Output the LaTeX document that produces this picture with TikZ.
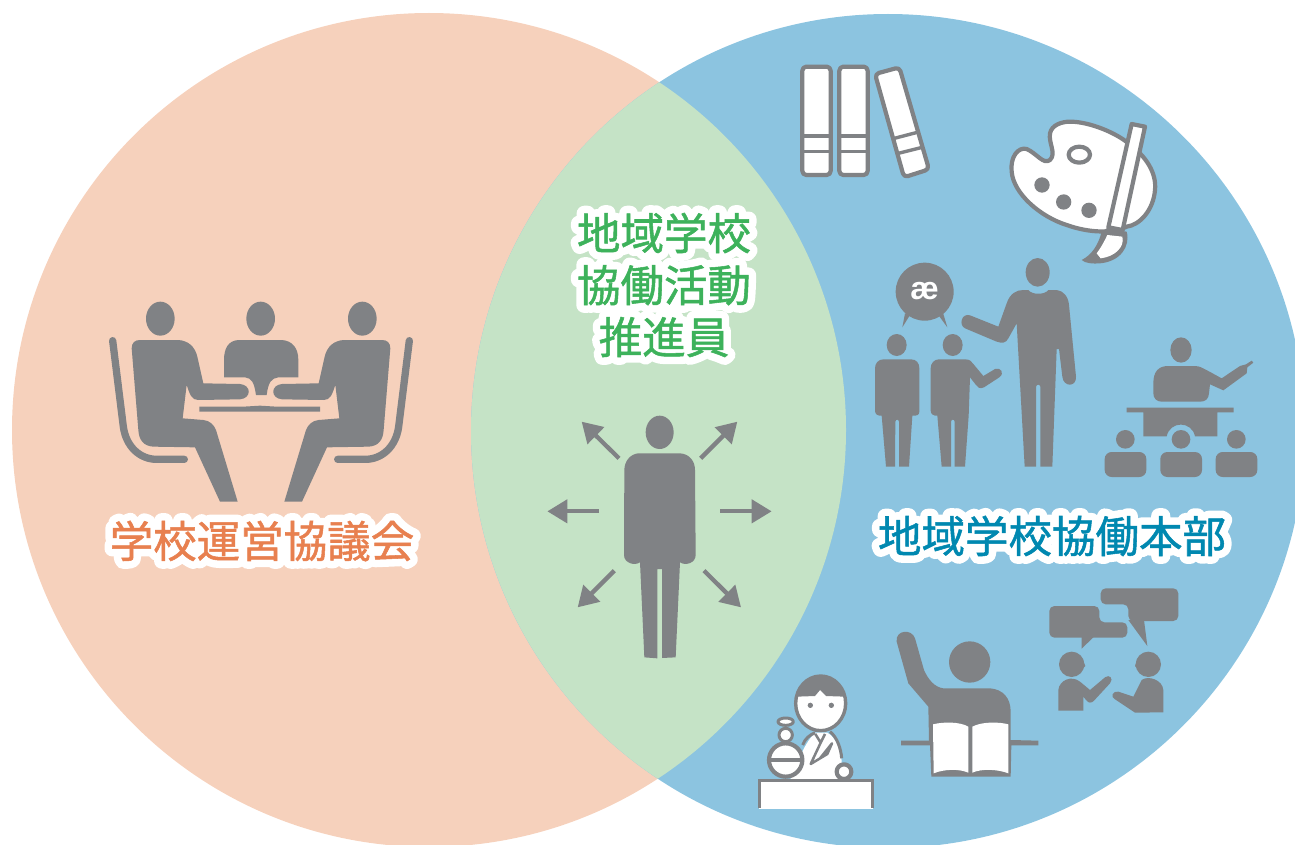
\documentclass[tikz,border=0pt]{standalone}
\usepackage{fontspec}
\usetikzlibrary{arrows.meta}
\newfontfamily\jpfont[FakeBold=1.2]{Noto Sans CJK JP}
\newfontfamily\halofont[FakeBold=36]{Noto Sans CJK JP}
\setmainfont{Liberation Sans}
\definecolor{peach}{HTML}{F6D1BC}
\definecolor{skyblue}{HTML}{8CC4E0}
\definecolor{lensgreen}{HTML}{C5E3C6}
\definecolor{icongrey}{HTML}{808285}
\definecolor{labelorange}{HTML}{E8804F}
\definecolor{labelblue}{HTML}{0088B0}
\definecolor{labelgreen}{HTML}{3DB25B}
\tikzset{
  iconfill/.style={fill=icongrey},
  iconline/.style={draw=icongrey, fill=white, line width=4.2pt, line join=round},
  bandline/.style={draw=icongrey, line width=3.4pt},
  outarrow/.style={draw=icongrey, line width=4.3pt, -{Triangle[length=20pt,width=23pt]}},
  labeltext/.style={font=\jpfont\fontsize{43.5}{52}\selectfont, align=center, inner sep=0pt},
  halotext/.style={font=\halofont\fontsize{43.5}{52}\selectfont, align=center, inner sep=0pt, text=white}
}
\newcommand{\halolabel}[4]{%
  \node[halotext] at (#2) {\special{pdf:code 1 j}#4};
  \node[labeltext, text=#3] (#1) at (#2) {#4};
}
\newcommand{\seatedperson}{%
  \draw[icongrey, line width=7.3pt, line cap=round] (68,182) -- (100,440) .. controls (108,500) and (150,538) .. (200,538) -- (283,538);
  \fill[iconfill] (125,205) .. controls (125,188) and (135,180) .. (150,180) -- (265,180) .. controls (295,182) and (315,200) .. (322,230) -- (340,310) -- (450,312) .. controls (485,315) and (485,355) .. (450,358) -- (325,360) .. controls (305,360) and (300,345) .. (290,315) -- (278,415) -- (340,420) .. controls (360,422) and (372,435) .. (378,450) -- (443,665) -- (390,665) -- (315,502) -- (190,500) .. controls (160,498) and (147,480) .. (145,450) -- cycle;
}

\begin{document}
\begin{tikzpicture}[x=1pt, y=-1pt]
  \useasboundingbox (0,0) rectangle (1295,845);
  \clip (0,0) rectangle (1295,845);
  \fill[peach] (429,430) circle[radius=417];
  \fill[skyblue] (888,431) circle[radius=417];
  \begin{scope}
    \clip (429,430) circle[radius=417];
    \fill[lensgreen] (888,431) circle[radius=417];
  \end{scope}

  \begin{scope}[shift={(90,280)}, scale=1/3]
    \foreach \hx in {211,512,817} {
      \fill[iconfill] (\hx,116) ellipse[x radius=43, y radius=51];
    }
    \seatedperson
    \begin{scope}[shift={(1026,0)}, xscale=-1]
      \seatedperson
    \end{scope}
    \fill[iconfill] (445,180) -- (575,180) .. controls (608,182) and (625,205) .. (625,240) -- (625,292) -- (565,292) .. controls (545,295) and (535,305) .. (530,345) -- (498,345) .. controls (492,305) and (485,295) .. (465,292) -- (402,292) -- (402,240) .. controls (402,205) and (415,182) .. (445,180) -- cycle;
    \fill[iconfill] (328,380) -- (460,380) -- (510,377) -- (560,380) -- (690,380) -- (690,395) -- (328,395) -- cycle;
  \end{scope}

  \begin{scope}[shift={(780,50)}, scale=1/3]
    \foreach \bx in {67,178} {
      \draw[iconline, rounded corners=4pt] (\bx,50) rectangle (\bx+85,375);
      \draw[bandline] (\bx,258) -- (\bx+85,258) (\bx,305) -- (\bx+85,305);
    }
    \draw[iconline, rounded corners=4pt] (285,72) -- (358,52) -- (447,358) -- (372,382) -- cycle;
    \draw[bandline] (343,265) -- (412,247) (355,310) -- (427,292);
    \draw[iconline] (870,215) .. controls (930,215) and (1010,250) .. (1045,280) .. controls (1100,320) and (1130,370) .. (1125,420) .. controls (1120,480) and (1080,525) .. (1040,530) .. controls (1000,550) and (930,550) .. (860,525) .. controls (780,500) and (700,430) .. (695,365) .. controls (690,320) and (715,290) .. (740,297) .. controls (770,310) and (790,345) .. (810,330) .. controls (830,310) and (805,280) .. (810,250) .. controls (815,225) and (845,215) .. (870,215) -- cycle;
    \draw[iconline] (898,314) ellipse[x radius=32, y radius=24];
    \foreach \dx/\dy in {786/405, 851/456, 927/481} {
      \fill[iconfill] (\dx,\dy) circle[radius=23];
    }
    \fill[iconfill] (980,535) -- (1040,545) .. controls (1052,590) and (1020,635) .. (960,640) .. controls (940,642) and (915,640) .. (905,630) .. controls (935,615) and (955,585) .. (965,545) -- cycle;
    \fill[white] (982,555) -- (1027,560) .. controls (1035,590) and (1005,620) .. (962,625) -- (950,610) .. controls (965,590) and (975,570) .. (982,555) -- cycle;
    \draw[iconline] (1055,222) -- (1095,230) -- (1028,540) -- (985,532) -- cycle;
  \end{scope}

  \begin{scope}[shift={(860,250)}, scale=1/3]
    \fill[iconfill] (533,67) ellipse[x radius=36, y radius=43];
    \fill[iconfill] (505,120) .. controls (515,135) and (555,135) .. (565,120) -- (590,120) .. controls (610,122) and (625,140) .. (627,165) -- (648,380) .. controls (650,412) and (610,412) .. (607,380) -- (597,297) -- (590,297) -- (577,650) -- (541,650) -- (541,410) .. controls (540,402) and (530,402) .. (528,410) -- (528,650) -- (494,650) -- (470,220) -- (445,265) .. controls (438,280) and (425,280) .. (410,275) -- (315,235) .. controls (295,225) and (305,188) .. (330,196) -- (415,230) -- (440,160) .. controls (450,130) and (470,120) .. (490,120) -- cycle;
    \foreach \hx in {110,278} {
      \fill[iconfill] (\hx,285) ellipse[x radius=30, y radius=33];
    }
    \fill[iconfill] (70,328) -- (153,328) .. controls (170,328) and (178,340) .. (178,355) -- (178,485) .. controls (178,495) and (170,498) .. (157,497) -- (147,650) -- (117,650) -- (117,515) .. controls (116,507) and (107,507) .. (106,515) -- (105,650) -- (78,650) -- (65,497) .. controls (52,498) and (45,492) .. (45,482) -- (45,355) .. controls (45,340) and (55,328) .. (70,328) -- cycle;
    \fill[iconfill] (237,328) -- (315,328) .. controls (330,328) and (335,335) .. (340,342) -- (370,378) -- (405,357) .. controls (422,350) and (435,370) .. (418,382) -- (372,412) .. controls (360,418) and (352,412) .. (348,405) -- (330,382) -- (326,497) -- (315,650) -- (284,650) -- (284,515) .. controls (283,507) and (274,507) .. (273,515) -- (273,650) -- (245,650) -- (232,497) .. controls (220,498) and (212,492) .. (212,482) -- (212,355) .. controls (212,340) and (222,328) .. (237,328) -- cycle;
    \fill[iconfill] (194,125) circle[radius=87];
    \fill[iconfill] (150,195) -- (127,232) -- (135,190) -- cycle;
    \fill[iconfill] (235,195) -- (262,232) -- (248,185) -- cycle;
    \node[text=white, font=\fontsize{32}{32}\selectfont\bfseries, inner sep=0pt] (ashnode) at (194,122) {æ};
    \fill[iconfill] (963,300) ellipse[x radius=32, y radius=38];
    \fill[iconfill] (880,400) .. controls (880,365) and (895,348) .. (925,348) -- (1005,348) .. controls (1020,348) and (1030,355) .. (1085,385) -- (1140,348) -- (1158,343) -- (1175,332) -- (1180,338) -- (1162,352) -- (1160,370) -- (1090,421) -- (1050,403) -- (1047,430) .. controls (1046,448) and (1035,455) .. (1020,455) -- (905,455) .. controls (890,455) and (880,445) .. (880,430) -- cycle;
    \fill[iconfill] (800,473) -- (1121,473) -- (1121,487) -- (1072,487) -- (1072,559) -- (1005,559) .. controls (995,512) and (930,512) .. (920,559) -- (850,559) -- (850,487) -- (800,487) -- cycle;
    \foreach \sx in {796,963,1129} {
      \fill[iconfill] (\sx,568) circle[radius=28];
      \fill[iconfill, rounded corners=7pt] (\sx-62,606) rectangle (\sx+63,681);
    }
  \end{scope}

  \begin{scope}[shift={(740,580)}, scale=1/3]
    \draw[iconline, line width=3.4pt] (242,370) ellipse[x radius=75, y radius=82];
    \fill[iconfill] (170,350) .. controls (175,310) and (205,288) .. (242,288) .. controls (280,288) and (310,310) .. (315,350) -- (258,348) -- (240,330) -- (225,348) -- cycle;
    \foreach \ex in {211,274} {
      \fill[iconfill] (\ex,376) circle[radius=8];
    }
    \fill[white] (150,600) .. controls (170,560) and (185,500) .. (225,458) -- (262,458) .. controls (290,475) and (305,510) .. (305,550) -- (330,600) -- cycle;
    \draw[icongrey, line width=3pt] (188,495) .. controls (195,475) and (210,465) .. (225,458) (270,455) .. controls (290,470) and (303,505) .. (305,535);
    \draw[icongrey, line width=2.5pt, line join=round] (226,462) -- (242,488) -- (255,462) (242,488) -- (212,552) -- (262,522) -- (276,490) -- (240,535);
    \draw[iconline] (137,540) circle[radius=50];
    \draw[bandline, line width=4.5pt] (87,540) -- (187,540);
    \draw[iconline, line width=3pt] (137,465) circle[radius=20];
    \draw[iconline, line width=3pt] (137,425) ellipse[x radius=23, y radius=11];
    \draw[iconline] (312,575) circle[radius=22];
    \fill[white] (58,602) rectangle (398,688);
    \draw[icongrey, line width=3.4pt] (59,685) -- (59,602) -- (397,602) -- (397,685);
    \fill[iconfill] (689,246) circle[radius=62];
    \fill[iconfill] (470,185) .. controls (465,150) and (515,145) .. (525,175) -- (552,270) .. controls (565,300) and (585,322) .. (610,325) -- (750,325) .. controls (790,328) and (812,355) .. (812,395) -- (812,480) -- (895,482) -- (895,496) -- (814,496) -- (812,590) -- (690,590) -- (574,590) -- (570,496) -- (483,496) -- (483,482) -- (567,482) -- (565,380) -- (505,310) -- cycle;
    \fill[white] (579,433) .. controls (610,425) and (660,425) .. (685,440) -- (685,578) .. controls (655,565) and (610,568) .. (581,580) -- cycle;
    \fill[white] (697,440) .. controls (725,425) and (775,425) .. (805,433) -- (805,580) .. controls (775,568) and (725,565) .. (697,578) -- cycle;
    \fill[iconfill, rounded corners=5pt] (928,78) -- (1078,78) -- (1078,127) -- (1162,127) -- (1162,173) -- (928,173) -- cycle;
    \fill[iconfill] (1025,170) -- (1025,206) -- (1062,170) -- cycle;
    \fill[iconfill, rounded corners=5pt] (1082,25) -- (1315,25) -- (1315,123) -- (1165,123) -- (1165,73) -- (1082,73) -- cycle;
    \fill[iconfill] (1165,120) -- (1222,198) -- (1212,120) -- cycle;
    \fill[iconfill] (995,253) circle[radius=38];
    \fill[iconfill] (1025,232) -- (1036,258) -- (1020,275) -- cycle;
    \fill[iconfill] (955,392) -- (955,330) .. controls (958,300) and (995,285) .. (1020,305) -- (1050,330) -- (1095,292) .. controls (1108,282) and (1122,295) .. (1110,310) -- (1062,362) .. controls (1055,370) and (1045,370) .. (1038,360) -- (1030,350) -- (1030,392) -- cycle;
    \fill[iconfill] (1225,253) circle[radius=38];
    \fill[iconfill] (1195,232) -- (1185,258) -- (1200,275) -- cycle;
    \fill[iconfill] (1270,397) -- (1270,330) .. controls (1268,300) and (1225,285) .. (1205,300) -- (1180,350) -- (1135,335) .. controls (1118,332) and (1110,350) .. (1125,358) -- (1185,398) -- cycle;
  \end{scope}

  \begin{scope}[shift={(530,400)}, scale=1/3]
    \fill[iconfill] (389,97) ellipse[x radius=42, y radius=50];
    \fill[iconfill] (325,160) -- (450,160) .. controls (480,162) and (495,185) .. (495,210) -- (497,465) .. controls (497,490) and (465,498) .. (450,487) -- (437,772) -- (396,774) -- (396,507) -- (382,507) -- (382,775) -- (343,772) -- (330,487) .. controls (315,498) and (282,490) .. (282,465) -- (283,210) .. controls (283,185) and (300,162) .. (325,160) -- cycle;
    \foreach \aname/\ax/\ay/\bx/\by in {aE/570/334/725/334, aW/207/334/52/334, aNE/512/175/622/65, aNW/267/175/155/65, aSW/253/512/143/622, aSE/522/512/633/622} {
      \coordinate (\aname-start) at (\ax,\ay);
      \coordinate (\aname-end) at (\bx,\by);
      \draw[outarrow] (\aname-start) -- (\aname-end);
    }
  \end{scope}

  \halolabel{councillabel}{262,541}{labelorange}{学校運営協議会}
  \halolabel{headquarterslabel}{1052,536}{labelblue}{地域学校協働本部}
  \halolabel{promoterlabel}{664,285}{labelgreen}{地域学校\\協働活動\\推進員}
\end{tikzpicture}
\end{document}
